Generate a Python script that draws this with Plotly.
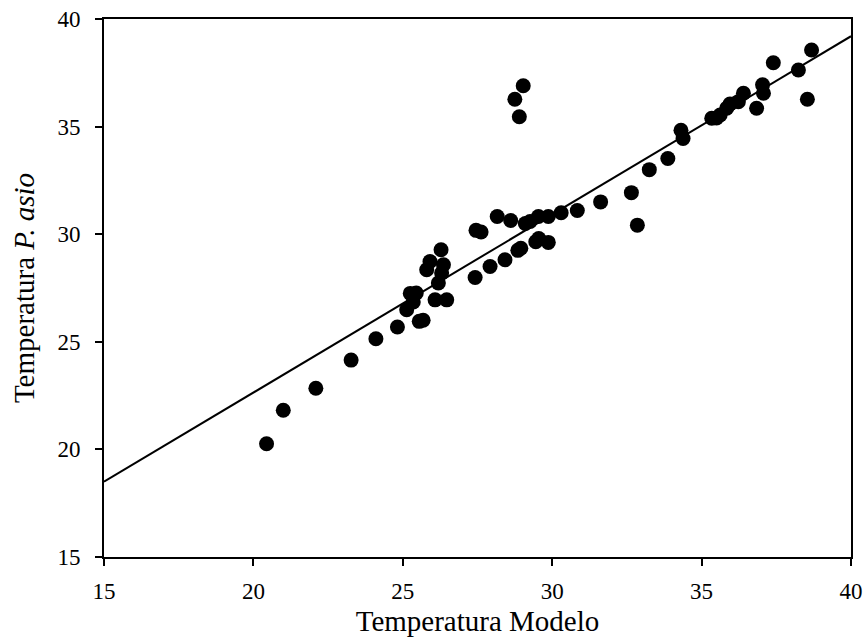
import plotly.graph_objects as go

# Model temperature vs. observed P. asio temperature
temp_modelo = [
    20.44, 21.00, 22.09, 23.27, 24.10, 24.82, 25.55, 25.68,
    25.13, 25.35, 25.25, 25.45, 26.08, 26.47,
    25.80, 25.91, 26.28, 26.36, 26.30, 26.19,
    27.42, 27.92, 28.42, 28.85, 28.95,
    27.45, 27.62, 28.16, 28.61, 29.10, 29.26, 29.54, 29.87,
    29.45, 29.55, 29.87,
    30.30, 30.84, 31.62, 32.65, 32.85, 33.25, 33.87, 34.31, 34.38,
    35.34, 35.50, 35.62, 35.84, 35.95, 36.23, 36.40, 36.84,
    37.04, 37.07, 37.40, 38.24, 38.54, 38.68,
    28.75, 28.90, 29.03,
]
temp_asio = [
    20.26, 21.82, 22.84, 24.15, 25.14, 25.69, 25.95, 26.00,
    26.49, 26.85, 27.25, 27.27, 26.95, 26.95,
    28.35, 28.73, 29.28, 28.58, 28.20, 27.73,
    27.99, 28.50, 28.81, 29.25, 29.35,
    30.18, 30.10, 30.82, 30.64, 30.50, 30.59, 30.82, 30.82,
    29.65, 29.80, 29.62,
    31.00, 31.10, 31.50, 31.93, 30.42, 33.00, 33.52, 34.83, 34.45,
    35.39, 35.40, 35.54, 35.85, 36.05, 36.16, 36.55, 35.85,
    36.94, 36.55, 37.97, 37.63, 36.27, 38.56,
    36.27, 35.46, 36.90,
]

# Fitted regression line endpoints
fit_x = [15, 40]
fit_y = [18.5, 39.2]

x_ticks = [15, 20, 25, 30, 35, 40]
y_ticks = [15, 20, 25, 30, 35, 40]

font_family = "Liberation Serif"

fig = go.Figure()
fig.add_trace(go.Scatter(
    x=fit_x, y=fit_y, mode="lines",
    line=dict(color="black", width=2),
    showlegend=False, hoverinfo="skip",
))
fig.add_trace(go.Scatter(
    x=temp_modelo, y=temp_asio, mode="markers",
    marker=dict(color="black", size=15, line=dict(width=0)),
    showlegend=False,
))

axis_common = dict(
    showgrid=False, zeroline=False, automargin=False,
    showline=True, linecolor="black", linewidth=2, mirror=True,
    ticks="outside", ticklen=7, tickwidth=1.5, tickcolor="black",
    tickfont=dict(family=font_family, size=23, color="black"),
)

fig.update_layout(
    width=866, height=644,
    margin=dict(l=104, r=15, t=19, b=87),
    paper_bgcolor="white", plot_bgcolor="white",
    font=dict(family=font_family, color="black"),
    xaxis=dict(
        range=[15, 40], tickvals=x_ticks, ticklabelstandoff=5,
        title=dict(text="Temperatura Modelo",
                   font=dict(family=font_family, size=29), standoff=8),
        **axis_common,
    ),
    yaxis=dict(
        range=[15, 40], tickvals=y_ticks, ticklabelstandoff=10,
        title=dict(text="Temperatura <i>P. asio</i>",
                   font=dict(family=font_family, size=29), standoff=14),
        **axis_common,
    ),
)

fig.write_html("out.html")
